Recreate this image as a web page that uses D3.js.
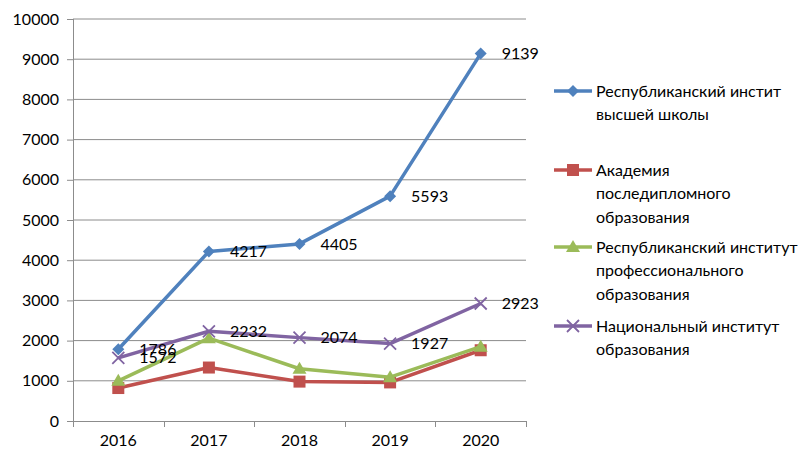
<!DOCTYPE html>
<html>
<head>
<meta charset="utf-8">
<script src="https://cdn.jsdelivr.net/npm/d3@7"></script>
<style>
  body { margin: 0; background: #fff; }
  text { font-family: Lato, "Open Sans", sans-serif; }
</style>
</head>
<body>
<svg id="chart"></svg>
<script>
// DATA
const years = ["2016", "2017", "2018", "2019", "2020"];
const rivsh = [1786, 4217, 4405, 5593, 9139];
const apo = [820, 1330, 980, 960, 1760];
const ripo = [1000, 2060, 1300, 1090, 1850];
const nio = [1572, 2232, 2074, 1927, 2923];
const yTicks = [0, 1000, 2000, 3000, 4000, 5000, 6000, 7000, 8000, 9000, 10000];

const series = [
  { name: ["Республиканский инстит", "высшей школы"], values: rivsh, color: "#4F81BD", marker: "diamond", labels: true, ly: 91 },
  { name: ["Академия", "последипломного", "образования"], values: apo, color: "#C0504D", marker: "square", labels: false, ly: 170 },
  { name: ["Республиканский институт", "профессионального", "образования"], values: ripo, color: "#9BBB59", marker: "triangle", labels: false, ly: 247 },
  { name: ["Национальный институт", "образования"], values: nio, color: "#8064A2", marker: "x", labels: true, ly: 326 }
];

const svgWidth = 809, svgHeight = 454;
const margin = { top: 19, left: 73, right: 283, bottom: 33 };
const width = svgWidth - margin.left - margin.right;
const height = svgHeight - margin.top - margin.bottom;
const fs = "16px";

let svg = d3.select("#chart").attr("width", svgWidth).attr("height", svgHeight);
let g = svg.append("g").attr("transform", "translate(" + margin.left + "," + margin.top + ")");

let x = d3.scaleBand().domain(years).range([0, width]);
let y = d3.scaleLinear().domain([0, 10000]).range([height, 0]);

//GRIDLINES
g.append("g")
  .selectAll("line")
  .data(yTicks.slice(1))
  .enter()
  .append("line")
  .attr("x1", 0).attr("x2", width)
  .attr("y1", d => y(d)).attr("y2", d => y(d))
  .attr("stroke", "#8c8c8c").attr("stroke-width", 1);

//Y AXIS
let yAxis = g.append("g")
  .call(d3.axisLeft(y).tickValues(yTicks).tickSize(6).tickPadding(8).tickFormat(d3.format("d")));
yAxis.select(".domain").attr("stroke", "#8c8c8c").attr("d", "M0.5,0V" + height);
yAxis.selectAll(".tick line").attr("stroke", "#8c8c8c");
yAxis.selectAll("text").style("font-size", fs).attr("fill", "#000");

//X AXIS
let xAxis = g.append("g").attr("transform", "translate(0," + height + ")")
  .call(d3.axisBottom(x).tickSize(0).tickPadding(14));
xAxis.select(".domain").attr("stroke", "#8c8c8c").attr("d", "M0," + 0.5 + "H" + width);
xAxis.selectAll("text").style("font-size", fs).attr("fill", "#000");
xAxis.selectAll(".sep")
  .data(d3.range(years.length + 1))
  .enter()
  .append("line")
  .attr("x1", i => Math.round(i * x.step()) + 0.5)
  .attr("x2", i => Math.round(i * x.step()) + 0.5)
  .attr("y1", 0).attr("y2", 6)
  .attr("stroke", "#8c8c8c");

function drawMarker(sel, type, color) {
  if (type === "diamond") {
    sel.append("path").attr("d", "M0,-6L6,0L0,6L-6,0Z").attr("fill", color);
  } else if (type === "square") {
    sel.append("rect").attr("x", -6).attr("y", -6).attr("width", 12).attr("height", 12).attr("fill", color);
  } else if (type === "triangle") {
    sel.append("path").attr("d", "M0,-7L7,5L-7,5Z").attr("fill", color);
  } else {
    sel.append("path").attr("d", "M-6,-6L6,6M-6,6L6,-6").attr("stroke", color).attr("stroke-width", 1.8).attr("fill", "none");
  }
}

let line = d3.line()
  .x((d, i) => x(years[i]) + x.bandwidth() / 2)
  .y(d => y(d));

//LINES AND MARKERS
series.forEach(s => {
  g.append("path")
    .datum(s.values)
    .attr("fill", "none")
    .attr("stroke", s.color)
    .attr("stroke-width", 3.5)
    .attr("stroke-linejoin", "round")
    .attr("d", line);
  s.values.forEach((v, i) => {
    let m = g.append("g").attr("transform", "translate(" + (x(years[i]) + x.bandwidth() / 2) + "," + y(v) + ")");
    drawMarker(m, s.marker, s.color);
  });
});

//DATA LABELS
series.filter(s => s.labels).forEach(s => {
  g.selectAll(null)
    .data(s.values)
    .enter()
    .append("text")
    .attr("x", (d, i) => x(years[i]) + x.bandwidth() / 2 + 21)
    .attr("y", d => y(d))
    .attr("dy", "0.35em")
    .style("font-size", fs)
    .attr("fill", "#000")
    .text(d => d);
});

//LEGEND
series.forEach(s => {
  let lg = svg.append("g").attr("transform", "translate(554," + s.ly + ")");
  lg.append("line").attr("x1", 0).attr("x2", 38).attr("y1", 0).attr("y2", 0)
    .attr("stroke", s.color).attr("stroke-width", 3.5);
  let m = lg.append("g").attr("transform", "translate(19,0)");
  drawMarker(m, s.marker, s.color);
  s.name.forEach((t, k) => {
    lg.append("text")
      .attr("x", 42)
      .attr("y", k * 23.5)
      .attr("dy", "0.35em")
      .style("font-size", fs)
      .attr("fill", "#000")
      .text(t);
  });
});
</script>
</body>
</html>
